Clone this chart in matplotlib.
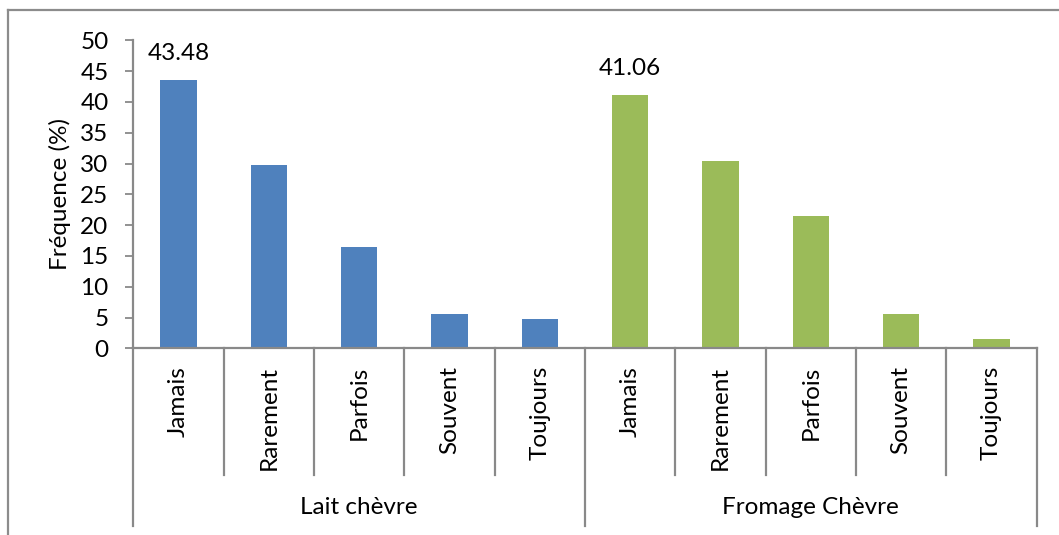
import matplotlib
matplotlib.use("Agg")
import matplotlib.pyplot as plt
from matplotlib.lines import Line2D
from matplotlib.transforms import blended_transform_factory

# Survey responses: frequency of consumption (%)
groups = ["Lait chèvre", "Fromage Chèvre"]
categories = ["Jamais", "Rarement", "Parfois", "Souvent", "Toujours"]
lait_values = [43.48, 29.7, 16.4, 5.6, 4.8]
fromage_values = [41.06, 30.4, 21.4, 5.6, 1.5]
group_colors = ["#4F81BD", "#9BBB59"]
y_ticks = [0, 5, 10, 15, 20, 25, 30, 35, 40, 45, 50]
y_label = "Fréquence (%)"

W, H = 1059, 535
DPI = 100
plt.rcParams["font.family"] = ["Lato", "DejaVu Sans"]
FS = 17.5
AXIS_GRAY = "#898989"

fig = plt.figure(figsize=(W / DPI, H / DPI), dpi=DPI)
fig.patch.set_facecolor("white")

# axes box in pixel units
left_px, right_px, top_px, bottom_px = 133.3, 1036.7, 40.3, 348.3
ax = fig.add_axes([left_px / W, (H - bottom_px) / H,
                   (right_px - left_px) / W, (bottom_px - top_px) / H])

series = [lait_values, fromage_values]
n_cat = len(categories)
bar_w = 0.4
for g, (vals, col) in enumerate(zip(series, group_colors)):
    xs = [g * n_cat + i + 0.5 for i in range(n_cat)]
    ax.bar(xs, vals, width=bar_w, color=col, edgecolor="none", zorder=2)
    # value label on the highest bar of the group
    ax.annotate(f"{vals[0]:.2f}", xy=(xs[0], vals[0]), xytext=(0, 19.5),
                textcoords="offset points", ha="center", va="center",
                fontsize=FS, color="black")

n_total = n_cat * len(groups)
ax.set_xlim(0, n_total)
ax.set_ylim(0, 50)
ax.set_yticks(y_ticks)
ax.set_yticklabels([str(t) for t in y_ticks], fontsize=FS)
ax.set_xticks([])

for side in ("top", "right"):
    ax.spines[side].set_visible(False)
for side in ("left", "bottom"):
    ax.spines[side].set_color(AXIS_GRAY)
    ax.spines[side].set_linewidth(1.6)
ax.tick_params(axis="y", direction="out", length=5.8, width=1.3,
               color=AXIS_GRAY, pad=12)

fig.text(60 / W, (H - 194) / H, y_label, rotation=90, ha="center",
         va="center", fontsize=FS)

# multi-level category axis below the plot
trans = blended_transform_factory(ax.transData, fig.transFigure)
inner_bottom = (H - 475) / H
outer_bottom = (H - 526) / H
axis_y = (H - bottom_px) / H
for b in range(n_total + 1):
    y_end = outer_bottom if b % n_cat == 0 else inner_bottom
    ax.add_line(Line2D([b, b], [axis_y, y_end], transform=trans,
                       color=AXIS_GRAY, lw=1.6, clip_on=False))

for g, name in enumerate(groups):
    for i, cat in enumerate(categories):
        ax.text(g * n_cat + i + 0.5, (H - 366) / H, cat, transform=trans,
                rotation=90, ha="center", va="top", fontsize=FS)
    ax.text(g * n_cat + n_cat / 2, (H - 508) / H, name, transform=trans,
            ha="center", va="center", fontsize=FS)

# chart frame (left and top edges)
fig.add_artist(Line2D([7.5 / W, 7.5 / W], [0, (H - 10) / H],
                      transform=fig.transFigure, color="#8c8c8c", lw=1.6))
fig.add_artist(Line2D([7.5 / W, 1], [(H - 10) / H, (H - 10) / H],
                      transform=fig.transFigure, color="#8c8c8c", lw=1.6))

fig.savefig("out.png", dpi=DPI, facecolor="white")
